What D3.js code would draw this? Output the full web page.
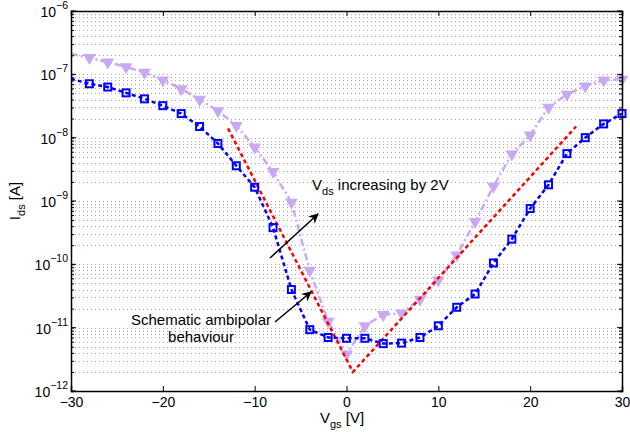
<!DOCTYPE html>
<html>
<head>
<meta charset="utf-8">
<script src="https://cdn.jsdelivr.net/npm/d3@7"></script>
<style>
  body { margin: 0; background: #fff; }
  text { font-family: "Liberation Sans", Arial, sans-serif; }
</style>
</head>
<body>
<div class="chart"></div>
<script>
// gate voltage steps
var vgs = [-30, -28, -26, -24, -22, -20, -18, -16, -14, -12, -10, -8, -6, -4, -2,
           0, 2, 4, 6, 8, 10, 12, 14, 16, 18, 20, 22, 24, 26, 28, 30];

// lower Vds curve (blue squares)
var idsLow = [8.5e-8, 7.1e-8, 6.3e-8, 5.1e-8, 4.1e-8, 3.2e-8, 2.4e-8, 1.5e-8, 8.1e-9, 3.6e-9, 1.65e-9,
              3.8e-10, 4.0e-11, 9.3e-12, 7.0e-12, 6.8e-12, 6.8e-12, 5.6e-12, 5.7e-12, 7.0e-12,
              1.07e-11, 2.1e-11, 3.4e-11, 1.05e-10, 2.5e-10, 7.6e-10, 1.8e-9, 5.6e-9, 1.0e-8, 1.65e-8, 2.4e-8];

// higher Vds curve (purple triangles)
var idsHigh = [2.1e-7, 1.83e-7, 1.55e-7, 1.31e-7, 1.07e-7, 8.1e-8, 5.9e-8, 4.0e-8, 2.65e-8, 1.55e-8, 7.1e-9,
               2.9e-9, 9.5e-10, 8.0e-11, 1.26e-11, 3.8e-12, 1.07e-11, 1.6e-11, 1.7e-11, 2.8e-11,
               5.6e-11, 1.4e-10, 4.7e-10, 1.7e-9, 5.5e-9, 1.1e-8, 3.0e-8, 4.8e-8, 6.5e-8, 8.1e-8, 8.3e-8];

// schematic ambipolar V shape (red)
var schemV = [-12.9, 0.7, 25];
var schemI = [1.4e-8, 2.0e-12, 1.5e-8];

var xTicks = [-30, -20, -10, 0, 10, 20, 30];
var yExps = [-12, -11, -10, -9, -8, -7, -6];

var svgWidth = 630, svgHeight = 432;
var margin = {top: 11, right: 8, bottom: 41, left: 71};
var width = svgWidth - margin.left - margin.right,
    height = svgHeight - margin.top - margin.bottom;

var svg = d3.select(".chart").append("svg")
    .attr("width", svgWidth)
    .attr("height", svgHeight);

var g = svg.append("g")
    .attr("transform", "translate(" + margin.left + "," + margin.top + ")");

var x = d3.scaleLinear().domain([-30, 30]).range([0, width]);
var y = d3.scaleLog().domain([1e-12, 1e-6]).range([height, 0]);

var lowData = vgs.map(function(v, i) { return {v: v, i: idsLow[i]}; });
var highData = vgs.map(function(v, i) { return {v: v, i: idsHigh[i]}; });
var schemData = schemV.map(function(v, i) { return {v: v, i: schemI[i]}; });

// dotted horizontal grid at every log tick
var yGrid = y.ticks();
g.append("g").selectAll("line")
    .data(yGrid)
    .enter().append("line")
    .attr("x1", 0).attr("x2", width)
    .attr("y1", function(d) { return Math.round(y(d)) + 0.5; })
    .attr("y2", function(d) { return Math.round(y(d)) + 0.5; })
    .attr("stroke", "#a8a8a8")
    .attr("stroke-width", 1)
    .attr("stroke-dasharray", "1,3");

var line = d3.line()
    .x(function(d) { return x(d.v); })
    .y(function(d) { return y(d.i); });

// purple curve
g.append("path")
    .datum(highData)
    .attr("fill", "none")
    .attr("stroke", "#c9a8f4")
    .attr("stroke-width", 2.5)
    .attr("stroke-dasharray", "7,3,2,3")
    .attr("d", line);

var tri = d3.symbol().type(d3.symbolTriangle).size(70);
g.append("g").selectAll("path")
    .data(highData.filter(function(d) { return d.v > -30; }))
    .enter().append("path")
    .attr("d", tri)
    .attr("transform", function(d) { return "translate(" + x(d.v) + "," + y(d.i) + ") rotate(180)"; })
    .attr("fill", "#c9a8f4");

// red schematic
g.append("path")
    .datum(schemData)
    .attr("fill", "none")
    .attr("stroke", "#ff0000")
    .attr("stroke-width", 2.5)
    .attr("stroke-dasharray", "4,3")
    .attr("d", line);

// blue curve
g.append("path")
    .datum(lowData)
    .attr("fill", "none")
    .attr("stroke", "#0000ff")
    .attr("stroke-width", 2.5)
    .attr("stroke-dasharray", "4,3")
    .attr("d", line);

g.append("g").selectAll("rect")
    .data(lowData.filter(function(d) { return d.v > -30; }))
    .enter().append("rect")
    .attr("x", function(d) { return x(d.v) - 3.5; })
    .attr("y", function(d) { return y(d.i) - 3.5; })
    .attr("width", 7).attr("height", 7)
    .attr("fill", "none")
    .attr("stroke", "#0000ff")
    .attr("stroke-width", 2);

// axes (ticks inward, box)
var xAxis = d3.axisBottom(x).tickValues(xTicks).tickSize(-5).tickPadding(6)
    .tickFormat(function(d) { return d < 0 ? "\u2212" + Math.abs(d) : d; });
var xTop = d3.axisTop(x).tickValues(xTicks).tickSize(-5).tickFormat("");
var yAxis = d3.axisLeft(y).tickValues(yGrid).tickSize(-3).tickFormat("");
var yRight = d3.axisRight(y).tickValues(yGrid).tickSize(-3).tickFormat("");

function styleAxis(sel) {
    sel.select(".domain").attr("stroke", "#000").attr("stroke-width", 1.5);
    sel.selectAll(".tick line").attr("stroke", "#000");
    sel.selectAll("text").attr("font-size", 14).attr("fill", "#000")
        .attr("font-family", "'Liberation Sans', Arial, sans-serif");
}

g.append("g").attr("transform", "translate(0," + height + ")").call(xAxis).call(styleAxis);
g.append("g").call(xTop).call(styleAxis);
g.append("g").call(yAxis).call(styleAxis);
g.append("g").attr("transform", "translate(" + width + ",0)").call(yRight).call(styleAxis);

// longer major ticks on y
var majors = yExps.map(function(e) { return Math.pow(10, e); });
g.append("g").selectAll("line.maj")
    .data(majors)
    .enter().append("line")
    .attr("x1", 0).attr("x2", 5)
    .attr("y1", function(d) { return y(d); }).attr("y2", function(d) { return y(d); })
    .attr("stroke", "#000");
g.append("g").selectAll("line.majr")
    .data(majors)
    .enter().append("line")
    .attr("x1", width - 5).attr("x2", width)
    .attr("y1", function(d) { return y(d); }).attr("y2", function(d) { return y(d); })
    .attr("stroke", "#000");

// y tick labels 10^n
var yl = g.append("g").selectAll("text")
    .data(yExps)
    .enter().append("text")
    .attr("x", -3)
    .attr("y", function(d) { return y(Math.pow(10, d)) + 6; })
    .attr("text-anchor", "end")
    .attr("font-size", 14);
yl.append("tspan").text("10");
yl.append("tspan").attr("dy", -8).attr("font-size", 10.5)
    .text(function(d) { return "\u2212" + Math.abs(d); });

// axis labels
var xl = svg.append("text")
    .attr("x", 342)
    .attr("y", 423)
    .attr("text-anchor", "middle")
    .attr("font-size", 15);
xl.append("tspan").text("V");
xl.append("tspan").attr("dy", 5).attr("font-size", 11).text("gs");
xl.append("tspan").attr("dy", -5).text(" [V]");

var ylab = svg.append("text")
    .attr("transform", "translate(20,201) rotate(-90)")
    .attr("text-anchor", "middle")
    .attr("font-size", 15);
ylab.append("tspan").text("I");
ylab.append("tspan").attr("dy", 5).attr("font-size", 11).text("ds");
ylab.append("tspan").attr("dy", -5).text(" [A]");

// annotations
svg.append("defs").append("marker")
    .attr("id", "arrow")
    .attr("viewBox", "0 0 10 10")
    .attr("refX", 9).attr("refY", 5)
    .attr("markerWidth", 10).attr("markerHeight", 10)
    .attr("markerUnits", "userSpaceOnUse")
    .attr("orient", "auto")
    .append("path")
    .attr("d", "M0,0 L10,5 L0,10 L3,5 z")
    .attr("fill", "#000");

svg.append("line")
    .attr("x1", 270).attr("y1", 258).attr("x2", 318).attr("y2", 214)
    .attr("stroke", "#000").attr("stroke-width", 1.5)
    .attr("marker-end", "url(#arrow)");
svg.append("line")
    .attr("x1", 275).attr("y1", 322).attr("x2", 311).attr("y2", 292)
    .attr("stroke", "#000").attr("stroke-width", 1.5)
    .attr("marker-end", "url(#arrow)");

var t1 = svg.append("text")
    .attr("x", 312).attr("y", 190)
    .attr("font-size", 15);
t1.append("tspan").text("V");
t1.append("tspan").attr("dy", 5).attr("font-size", 11).text("ds");
t1.append("tspan").attr("dy", -5).text(" increasing by 2V");

svg.append("text")
    .attr("x", 201).attr("y", 325)
    .attr("text-anchor", "middle")
    .attr("font-size", 15)
    .text("Schematic ambipolar");
svg.append("text")
    .attr("x", 201).attr("y", 342)
    .attr("text-anchor", "middle")
    .attr("font-size", 15)
    .text("behaviour");
</script>
</body>
</html>
